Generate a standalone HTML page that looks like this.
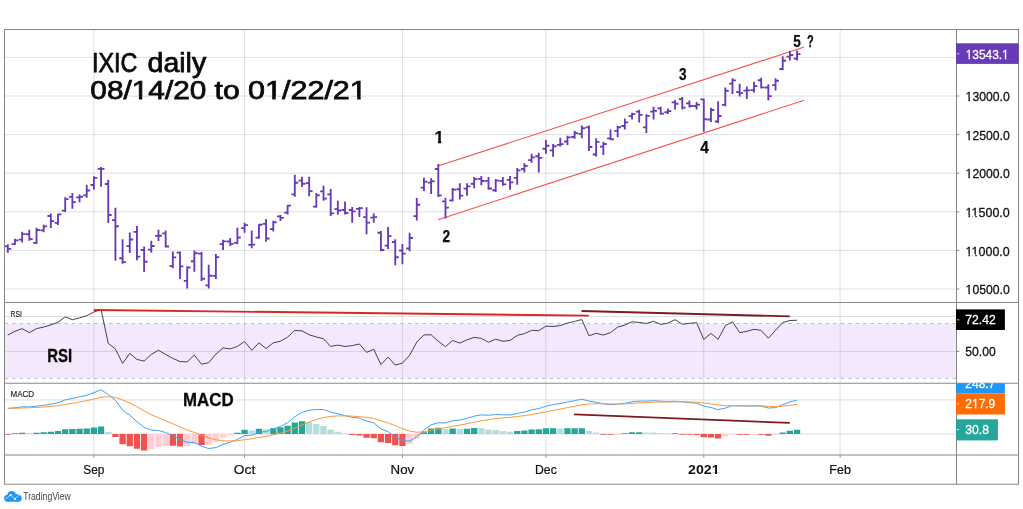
<!DOCTYPE html>
<html><head><meta charset="utf-8"><title>IXIC daily</title>
<style>
html,body{margin:0;padding:0;background:#fff;}
body{width:1023px;height:509px;overflow:hidden;}
svg{display:block;}
text{font-family:"Liberation Sans",sans-serif;}
</style></head><body>
<svg width="1023" height="509" viewBox="0 0 1023 509">
<rect width="1023" height="509" fill="#fff"/>
<rect x="5" y="323.5" width="951.5" height="54.7" fill="#f4e8fd"/>
<path d="M93.9 30V455M244.58 30V455M402.43 30V455M545.92 30V455M703.77 30V455M840.1 30V455M5 57.4H956M5 96H956M5 134.6H956M5 173.2H956M5 211.8H956M5 250.4H956M5 289H956M5 316.5H956M5 351.4H956M5 399.95H956M5 434H956" stroke="rgba(140,140,165,0.28)" stroke-width="1" fill="none"/>
<path d="M5 323.5H956M5 378.4H956" stroke="#bfbcc9" stroke-width="1" stroke-dasharray="3.4 4.065" stroke-dashoffset="0.37" fill="none"/>
<path d="M11.82 433.3h6.3v0.7h-6.3zM19 432.81h6.3v1.19h-6.3zM33.35 432.71h6.3v1.29h-6.3zM40.52 432.3h6.3v1.7h-6.3zM47.7 431.79h6.3v2.21h-6.3zM54.88 431.08h6.3v2.92h-6.3zM62.05 429.32h6.3v4.68h-6.3zM69.22 429.08h6.3v4.92h-6.3zM76.4 428.85h6.3v5.15h-6.3zM83.57 428.58h6.3v5.42h-6.3zM90.75 427.57h6.3v6.43h-6.3zM97.92 426.57h6.3v7.43h-6.3zM234.25 432.75h6.3v1.25h-6.3zM241.43 429.85h6.3v4.15h-6.3zM255.78 428.64h6.3v5.36h-6.3zM270.12 428.17h6.3v5.83h-6.3zM277.3 427.25h6.3v6.75h-6.3zM284.48 425.65h6.3v8.35h-6.3zM291.65 422.54h6.3v11.46h-6.3zM298.83 421.35h6.3v12.65h-6.3zM420.8 432.22h6.3v1.78h-6.3zM427.98 428.38h6.3v5.62h-6.3zM435.15 427.87h6.3v6.13h-6.3zM449.5 428.5h6.3v5.5h-6.3zM463.85 428.64h6.3v5.36h-6.3zM471.03 427.96h6.3v6.04h-6.3zM514.08 431.01h6.3v2.99h-6.3zM521.25 430.43h6.3v3.57h-6.3zM528.42 429.45h6.3v4.55h-6.3zM535.6 429.32h6.3v4.68h-6.3zM542.77 428.31h6.3v5.69h-6.3zM549.95 428.22h6.3v5.78h-6.3zM564.3 428.35h6.3v5.65h-6.3zM571.47 428.34h6.3v5.66h-6.3zM578.65 428.34h6.3v5.66h-6.3zM621.7 433.3h6.3v0.7h-6.3zM628.88 432.36h6.3v1.64h-6.3zM636.05 432.14h6.3v1.86h-6.3zM671.92 433.3h6.3v0.7h-6.3zM779.55 432.53h6.3v1.47h-6.3zM786.72 430.65h6.3v3.35h-6.3zM793.9 429.81h6.3v4.19h-6.3z" fill="#26a69a"/>
<path d="M26.18 433.21h6.3v0.79h-6.3zM105.1 431.88h6.3v2.12h-6.3zM248.6 430.39h6.3v3.61h-6.3zM262.95 429.33h6.3v4.67h-6.3zM306 422.17h6.3v11.83h-6.3zM313.18 423.9h6.3v10.1h-6.3zM320.35 426.01h6.3v7.99h-6.3zM327.53 429.57h6.3v4.43h-6.3zM334.7 431.87h6.3v2.13h-6.3zM341.88 433.3h6.3v0.7h-6.3zM442.33 429.31h6.3v4.69h-6.3zM456.68 429.02h6.3v4.98h-6.3zM478.2 428.17h6.3v5.83h-6.3zM485.38 429.58h6.3v4.42h-6.3zM492.55 429.93h6.3v4.07h-6.3zM499.73 430.93h6.3v3.07h-6.3zM506.9 431.65h6.3v2.35h-6.3zM557.12 428.45h6.3v5.55h-6.3zM585.82 431.02h6.3v2.98h-6.3zM593 432.55h6.3v1.45h-6.3zM643.22 432.5h6.3v1.5h-6.3zM650.4 432.51h6.3v1.49h-6.3zM657.57 433.21h6.3v0.79h-6.3zM664.75 433.3h6.3v0.7h-6.3z" fill="#b2dfdb"/>
<path d="M4.65 434h6.3v0.7h-6.3zM112.27 434h6.3v2.91h-6.3zM119.45 434h6.3v10.29h-6.3zM126.62 434h6.3v12.14h-6.3zM133.8 434h6.3v14.87h-6.3zM140.97 434h6.3v16.62h-6.3zM169.68 434h6.3v11.87h-6.3zM176.85 434h6.3v12.44h-6.3zM198.38 434h6.3v10.98h-6.3zM349.05 434h6.3v1.11h-6.3zM356.23 434h6.3v1.62h-6.3zM363.4 434h6.3v3.66h-6.3zM370.58 434h6.3v4.27h-6.3zM377.75 434h6.3v8.27h-6.3zM384.93 434h6.3v8.9h-6.3zM392.1 434h6.3v11.31h-6.3zM399.28 434h6.3v11.91h-6.3zM600.17 434h6.3v0.7h-6.3zM607.35 434h6.3v0.8h-6.3zM679.1 434h6.3v0.7h-6.3zM686.27 434h6.3v0.7h-6.3zM693.45 434h6.3v1.01h-6.3zM700.62 434h6.3v3.16h-6.3zM707.8 434h6.3v3.57h-6.3zM714.97 434h6.3v4.6h-6.3zM736.5 434h6.3v0.7h-6.3zM743.67 434h6.3v0.7h-6.3zM758.02 434h6.3v0.7h-6.3zM765.2 434h6.3v1.71h-6.3z" fill="#ef5350"/>
<path d="M148.15 434h6.3v15.3h-6.3zM155.32 434h6.3v12.68h-6.3zM162.5 434h6.3v11.73h-6.3zM184.03 434h6.3v12.33h-6.3zM191.2 434h6.3v10.05h-6.3zM205.55 434h6.3v10.64h-6.3zM212.72 434h6.3v7.73h-6.3zM219.9 434h6.3v3.68h-6.3zM227.07 434h6.3v1.16h-6.3zM406.45 434h6.3v9.94h-6.3zM413.62 434h6.3v4.47h-6.3zM614.52 434h6.3v0.7h-6.3zM722.15 434h6.3v2.43h-6.3zM729.32 434h6.3v0.7h-6.3zM750.85 434h6.3v0.7h-6.3zM772.38 434h6.3v1.02h-6.3z" fill="#ffcdd2"/>
<polyline points="7.8,408.38 14.97,407.8 22.15,406.77 29.32,406.97 36.5,406.15 43.67,405.32 50.85,404.25 58.02,402.81 65.2,399.88 72.38,398.41 79.55,396.89 86.72,395.26 93.9,392.64 101.07,389.79 108.25,394.57 115.42,400.33 122.6,410.29 129.78,415.16 136.95,421.61 144.12,427.52 151.3,430.02 158.47,430.57 165.65,432.56 172.83,435.66 180,439.34 187.18,442.32 194.35,442.55 201.53,446.22 208.7,448.54 215.88,447.56 223.05,444.43 230.22,442.21 237.4,439.48 244.58,435.55 251.75,435.19 258.93,432.09 266.1,431.62 273.27,429 280.45,426.39 287.62,422.7 294.8,416.72 301.98,412.37 309.15,410.24 316.32,409.44 323.5,409.55 330.68,412.01 337.85,413.78 345.02,415.74 352.2,417.25 359.38,418.17 366.55,421.13 373.73,422.8 380.9,428.88 388.07,431.73 395.25,436.97 402.43,440.54 409.6,441.06 416.77,436.71 423.95,430.01 431.12,424.76 438.3,422.72 445.48,422.99 452.65,420.81 459.82,420.08 467,418.36 474.18,416.17 481.35,414.92 488.52,415.22 495.7,414.55 502.88,414.79 510.05,414.92 517.23,413.54 524.4,412.06 531.57,409.95 538.75,408.64 545.92,406.21 553.1,404.68 560.27,403.51 567.45,402 574.62,400.58 581.8,399.16 588.97,401.1 596.15,402.26 603.32,403.84 610.5,404.74 617.67,404.1 624.85,403.25 632.02,401.78 639.2,401.09 646.37,401.07 653.55,400.72 660.72,401.22 667.9,401.63 675.07,401.28 682.25,401.92 689.42,402.57 696.6,403.24 703.77,406.18 710.95,407.49 718.12,409.66 725.3,408.1 732.47,405.7 739.65,405.95 746.82,406.07 754,405.87 761.17,406.21 768.35,408.03 775.52,407.6 782.7,404.73 789.87,402.02 797.05,400.13" fill="none" stroke="#3fa2f5" stroke-width="1" stroke-linejoin="round"/>
<polyline points="7.8,408.37 14.97,408.25 22.15,407.96 29.32,407.76 36.5,407.44 43.67,407.01 50.85,406.46 58.02,405.73 65.2,404.56 72.38,403.33 79.55,402.04 86.72,400.69 93.9,399.08 101.07,397.22 108.25,396.69 115.42,397.42 122.6,399.99 129.78,403.03 136.95,406.74 144.12,410.9 151.3,414.72 158.47,417.89 165.65,420.83 172.83,423.79 180,426.9 187.18,429.98 194.35,432.5 201.53,435.24 208.7,437.9 215.88,439.83 223.05,440.75 230.22,441.04 237.4,440.73 244.58,439.69 251.75,438.79 258.93,437.45 266.1,436.29 273.27,434.83 280.45,433.14 287.62,431.05 294.8,428.19 301.98,425.02 309.15,422.07 316.32,419.54 323.5,417.54 330.68,416.44 337.85,415.9 345.02,415.87 352.2,416.15 359.38,416.55 366.55,417.47 373.73,418.53 380.9,420.6 388.07,422.83 395.25,425.66 402.43,428.63 409.6,431.12 416.77,432.24 423.95,431.79 431.12,430.39 438.3,428.85 445.48,427.68 452.65,426.31 459.82,425.06 467,423.72 474.18,422.21 481.35,420.75 488.52,419.65 495.7,418.63 502.88,417.86 510.05,417.27 517.23,416.52 524.4,415.63 531.57,414.49 538.75,413.32 545.92,411.9 553.1,410.46 560.27,409.07 567.45,407.65 574.62,406.24 581.8,404.82 588.97,404.08 596.15,403.71 603.32,403.74 610.5,403.94 617.67,403.97 624.85,403.83 632.02,403.42 639.2,402.95 646.37,402.58 653.55,402.21 660.72,402.01 667.9,401.93 675.07,401.8 682.25,401.83 689.42,401.98 696.6,402.23 703.77,403.02 710.95,403.91 718.12,405.06 725.3,405.67 732.47,405.68 739.65,405.73 746.82,405.8 754,405.81 761.17,405.89 768.35,406.32 775.52,406.58 782.7,406.21 789.87,405.37 797.05,404.32" fill="none" stroke="#ff9838" stroke-width="1" stroke-linejoin="round"/>
<polyline points="7.8,335.07 14.97,331.27 22.15,328.64 29.32,332.63 36.5,328.6 43.67,327.07 50.85,324.89 58.02,322.2 65.2,316.85 72.38,319.74 79.55,317.84 86.72,315.76 93.9,311.94 101.07,309.56 108.25,343.39 115.42,349.03 122.6,363.38 129.78,353.48 136.95,359.41 144.12,361.09 151.3,354.38 158.47,350.28 165.65,354.43 172.83,358.38 180,361.54 187.18,361.93 194.35,355.05 201.53,364.19 208.7,362.72 215.88,354.21 223.05,347.89 230.22,348.94 237.4,346.35 244.58,341.55 251.75,350.34 258.93,342.8 266.1,348.62 273.27,342.77 280.45,341.27 287.62,337.13 294.8,330.38 301.98,330.87 309.15,334.73 316.32,336.96 323.5,338.73 330.68,346.39 337.85,345.14 345.02,346.44 352.2,345.64 359.38,343.99 366.55,352.37 373.73,349.3 380.9,364.5 388.07,357.08 395.25,365.05 402.43,363.17 409.6,355.3 416.77,342.05 423.95,334.89 431.12,334.79 438.3,341.33 445.48,346.66 452.65,340.44 459.82,343.06 467,339.85 474.18,337.37 481.35,338.35 488.52,342.27 495.7,339.15 502.88,341.26 510.05,340.41 517.23,335.39 524.4,333.63 531.57,330.32 538.75,330.71 545.92,326.13 553.1,326.48 560.27,325.64 567.45,323.02 574.62,321.4 581.8,319.59 588.97,335.76 596.15,333.32 603.32,335.06 610.5,332.63 617.67,327.11 624.85,325.05 632.02,321.76 639.2,322.45 646.37,323.5 653.55,321.25 660.72,324.4 667.9,323.12 675.07,319.65 682.25,324.18 689.42,323.38 696.6,322.61 703.77,339.42 710.95,333.36 718.12,339.29 725.3,325.81 732.47,321.69 739.65,332.6 746.82,331.32 754,329.3 761.17,330.44 768.35,338.19 775.52,330.35 782.7,322.44 789.87,320.52 797.05,320.2" fill="none" stroke="#46414d" stroke-width="1" stroke-linejoin="round"/>
<path d="M438 166L804.2 47.1M438 219.7L804.2 100.2" stroke="#f8524d" stroke-width="1.1" fill="none"/>
<path d="M7.8 244.37V252.84M4.4 246.44H7.8M7.8 248.91H11.2M14.97 238.67V244.98M11.57 244.09H14.97M14.97 240.38H18.38M22.15 231.8V242.62M18.75 239.57H22.15M22.15 234.12H25.55M29.32 229.83V240.66M25.93 234.26H29.32M29.32 239.09H32.73M36.5 227.87V244M33.1 242.91H36.5M36.5 229.95H39.9M43.67 224.73V232.21M40.27 230.33H43.67M43.67 226.33H47.07M50.85 213.53V227.89M47.45 215.99H50.85M50.85 221.09H54.25M58.02 213.53V224.94M54.62 222.87H58.02M58.02 214.39H61.42M65.2 197.22V211.97M61.8 210.69H65.2M65.2 199.06H68.6M72.38 192.9V208.63M68.97 196.94H72.38M72.38 202.12H75.78M79.55 194.47V202.35M76.15 197.33H79.55M79.55 196.7H82.95M86.72 184.65V197.83M83.32 195.36H86.72M86.72 190.53H90.12M93.9 176.2V189.58M90.5 184.95H93.9M93.9 177.86H97.3M101.07 166.97V186.63M97.67 168.84H101.07M101.07 168.84H104.47M108.25 179.74V223M104.85 183.97H108.25M108.25 215.03H111.65M115.42 207.86V260.73M112.02 220.15H115.42M115.42 226.23H118.83M122.6 239.29V263.67M119.2 258.26H122.6M122.6 262.16H126M129.78 232.42V253.06M126.38 246.08H129.78M129.78 239.47H133.18M136.95 225.93V260.33M133.55 231.94H136.95M136.95 256.61H140.35M144.12 246.56V272.12M140.72 250.01H144.12M144.12 261.71H147.53M151.3 240.67V252.87M147.9 249.62H151.3M151.3 246.03H154.7M158.47 229.86V241.08M155.07 235.86H158.47M158.47 235.71H161.88M165.65 230.45V247.56M162.25 233.31H165.65M165.65 246.5H169.05M172.83 251.47V268.19M169.43 266.12H172.83M172.83 257.33H176.23M180 251.47V279M176.6 252.56H180M180 266.36H183.4M187.18 266.21V288.43M183.78 280.85H187.18M187.18 267.48H190.58M194.35 250.49V271.73M190.95 261.21H194.35M194.35 253.21H197.75M201.53 252.06V280.96M198.12 253.55H201.53M201.53 278.73H204.93M208.7 264.83V288.43M205.3 285.37H208.7M208.7 275.7H212.1M215.88 254.03V279M212.47 275.94H215.88M215.88 257.07H219.28M223.05 239.66V249.89M219.65 244.09H223.05M223.05 241.33H226.45M230.22 238.09V245.96M226.82 241.53H230.22M230.22 243.82H233.62M237.4 227.87V244M234 242.91H237.4M237.4 237.47H240.8M244.58 222.76V232.8M241.18 228.17H244.58M244.58 225.19H247.98M251.75 230.62V248.32M248.35 244.87H251.75M251.75 244.61H255.15M258.93 224.23V238.69M255.53 237.6H258.93M258.93 224.73H262.32M266.1 219.03V241.64M262.7 223.85H266.1M266.1 238.46H269.5M273.27 220.8V231.62M269.88 229.16H273.27M273.27 222.25H276.67M280.45 215.1V221.01M277.05 216.39H280.45M280.45 217.9H283.85M287.62 205.08V214.53M284.23 212.65H287.62M287.62 205.63H291.02M294.8 174.63V196.85M291.4 194.38H294.8M294.8 182.75H298.2M301.98 176.79V187.02M298.58 180.63H301.98M301.98 183.71H305.38M309.15 176.79V196.26M305.75 183.18H309.15M309.15 191.05H312.55M316.32 192.9V207.65M312.93 206.56H316.32M316.32 195.29H319.72M323.5 185.63V200.78M320.1 191.43H323.5M323.5 198.56H326.9M330.68 188.97V216.1M327.28 194.38H330.68M330.68 213.43H334.07M337.85 200.7V214.7M334.45 209.15H337.85M337.85 210.53H341.25M345.02 201.6V214.4M341.62 210H345.02M345.02 212.98H348.42M352.2 206.9V222.87M348.8 210H352.2M352.2 211.34H355.6M359.38 206.9V217M355.98 208.9H359.38M359.38 208.07H362.77M366.55 207.33V234.26M363.15 217.06H366.55M366.55 222.69H369.95M373.73 213.62V222.87M370.33 217.65H373.73M373.73 217.1H377.12M380.9 230.9V251.35M377.5 232.78H380.9M380.9 250.02H384.3M388.07 226.98V249M384.68 245.55H388.07M388.07 236.07H391.47M395.25 239.16V265.3M391.85 242.01H395.25M395.25 257.23H398.65M402.43 244.07V264.32M399.03 250.46H402.43M402.43 253.67H405.82M409.6 232.87V251.35M406.2 248.5H409.6M409.6 238H413M416.77 197.9V220.51M413.38 216.08H416.77M416.77 204.79H420.17M423.95 177.86V191.04M420.55 187.59H423.95M423.95 181.62H427.35M431.12 178.25V193.99M427.73 182.68H431.12M431.12 181.29H434.52M438.3 164V196.93M434.9 169H438.3M438.3 195.3H441.7M445.48 197.9V218.55M442.08 201.35H445.48M445.48 207.64H448.88M452.65 188.08V201.45M449.25 200.36H452.65M452.65 189.69H456.05M459.82 183.26V199.59M456.43 189.26H459.82M459.82 195.62H463.22M467 183.26V195.66M463.6 188.67H467M467 186.38H470.4M474.18 176.98V188.19M470.78 183.76H474.18M474.18 179.06H477.57M481.35 175.99V185.24M477.95 178.85H481.35M481.35 180.97H484.75M488.52 176.98V189.76M485.12 180.82H488.52M488.52 188.52H491.92M495.7 178.94V192.12M492.3 190.25H495.7M495.7 180.56H499.1M502.88 176.98V185.83M499.48 180.82H502.88M502.88 184.4H506.27M510.05 175.99V189.76M506.65 179.83H510.05M510.05 182.42H513.45M517.23 167.94V184.85M513.83 177.87H517.23M517.23 170.36H520.62M524.4 163.22V172.47M521 169.03H524.4M524.4 165.91H527.8M531.57 153.79V162.65M528.17 160.19H531.57M531.57 157.31H534.97M538.75 152.81V172.47M535.35 156.26H538.75M538.75 157.86H542.15M545.92 140.04V153.81M542.52 148.79H545.92M545.92 145.79H549.32M553.1 143.97V156.76M549.7 150.36H553.1M553.1 146.23H556.5M560.27 137.68V146.54M556.88 144.86H560.27M560.27 144.08H563.67M567.45 135.72V144.97M564.05 141.52H567.45M567.45 137.36H570.85M574.62 130.81V138.68M571.22 137H574.62M574.62 133.06H578.02M581.8 125.49V138.28M578.4 133.85H581.8M581.8 128.21H585.2M588.97 125.49V151.05M585.57 127.37H588.97M588.97 147.03H592.37M596.15 138.26V156.55M592.75 154.48H596.15M596.15 141.87H599.55M603.32 141.8V154.98M599.92 146.62H603.32M603.32 144.03H606.72M610.5 129.42V140.24M607.1 138.37H610.5M610.5 139.23H613.9M617.67 126.08V137.3M614.27 130.9H617.67M617.67 127.26H621.07M624.85 118.62V129.44M621.45 125.99H624.85M624.85 122.39H628.25M632.02 112.72V119.62M628.62 116.17H632.02M632.02 114.16H635.42M639.2 109.78V122.56M635.8 111.65H639.2M639.2 114.86H642.6M646.37 114.29V132.98M642.97 127.37H646.37M646.37 115.88H649.77M653.55 106.83V119.62M650.15 111.65H653.55M653.55 110.83H656.95M660.72 106.83V114.7M657.32 108.31H660.72M660.72 113.67H664.12M667.9 108.4V114.11M664.5 112.24H667.9M667.9 111.07H671.3M675.07 99.95V109.4M671.67 102.42H675.07M675.07 103.76H678.47M682.25 97V109.4M678.85 99.08H682.25M682.25 107.56H685.65M689.42 100.54V107.44M686.02 103.4H689.42M689.42 106.04H692.82M696.6 101.92V109.4M693.2 105.95H696.6M696.6 104.62H700M703.77 98.4V131.82M700.38 99.3H703.77M703.77 119.28H707.17M710.95 107.83V122M707.55 119.53H710.95M710.95 109.98H714.35M718.12 101.35V123.37M714.72 121.5H718.12M718.12 116.01H721.52M725.3 87.6V106.28M721.9 104.8H725.3M725.3 90.79H728.7M732.47 78.36V93.9M729.07 83.58H732.47M732.47 80.41H735.87M739.65 83.67V96.46M736.25 92.03H739.65M739.65 93.19H743.05M746.82 86.62V99.01M743.42 90.65H746.82M746.82 90.41H750.22M754 81.7V92.53M750.6 90.06H754M754 86.05H757.4M761.17 77.78V88.6M757.77 80.24H761.17M761.17 87.3H764.57M768.35 84.26V100.39M764.95 87.51H768.35M768.35 96.12H771.75M775.52 78.36V90.56M772.12 85.15H775.52M775.52 80.78H778.92M782.7 56.16V70.33M779.3 69.04H782.7M782.7 60.7H786.1M789.87 50.8V60.5M786.47 56.66H789.87M789.87 55.01H793.27M797.05 50.5V60.5M793.65 58.63H797.05M797.05 54.08H800.45" stroke="#673ab7" stroke-width="1.85" fill="none"/>
<path d="M93.8 310L588.7 315.6" stroke="#dc2626" stroke-width="1.9" fill="none"/>
<path d="M581.5 311L789.8 316.4M574 414.4L789.8 422.9" stroke="#7d1a22" stroke-width="1.85" fill="none"/>
<path d="M4 302.45H1019M4 383.2H1019M4 454.9H1019" stroke="#898989" stroke-width="1.05" fill="none"/>
<path d="M956.5 29V484" stroke="#858585" stroke-width="1" fill="none"/>
<rect x="4.5" y="29.5" width="1014" height="454.7" fill="none" stroke="#858585" stroke-width="1"/>
<path d="M957 96h2.3M957 134.6h2.3M957 173.2h2.3M957 211.8h2.3M957 250.4h2.3M957 289h2.3M957 351.4h2.3M93.9 455v2.6M244.58 455v2.6M402.43 455v2.6M545.92 455v2.6M703.77 455v2.6M840.1 455v2.6" stroke="#85858c" stroke-width="1" fill="none"/>
<g fill="#111" stroke="#111" stroke-width="0.3">
<clipPath id="k11"><path clip-rule="evenodd" d="M960.6 85.36H1014.8V106.48H960.6zM965.92 99.68H968.54V103.35H965.92zM969.88 99.68H972.38V103.35H969.88z"/></clipPath>
<text x="965.6" y="101.2" font-size="13.2" lengthAdjust="spacingAndGlyphs" textLength="44.2" clip-path="url(#k11)">13000.0</text>
<clipPath id="k12"><path clip-rule="evenodd" d="M960.6 123.96H1014.8V145.08H960.6zM965.92 138.28H968.54V141.95H965.92zM969.88 138.28H972.38V141.95H969.88z"/></clipPath>
<text x="965.6" y="139.8" font-size="13.2" lengthAdjust="spacingAndGlyphs" textLength="44.2" clip-path="url(#k12)">12500.0</text>
<clipPath id="k13"><path clip-rule="evenodd" d="M960.6 162.56H1014.8V183.68H960.6zM965.92 176.88H968.54V180.55H965.92zM969.88 176.88H972.38V180.55H969.88z"/></clipPath>
<text x="965.6" y="178.4" font-size="13.2" lengthAdjust="spacingAndGlyphs" textLength="44.2" clip-path="url(#k13)">12000.0</text>
<clipPath id="k14"><path clip-rule="evenodd" d="M960.6 201.16H1014.8V222.28H960.6zM965.92 215.48H968.54V219.15H965.92zM969.88 215.48H972.38V219.15H969.88zM972.72 215.48H975.34V219.15H972.72zM976.68 215.48H979.18V219.15H976.68z"/></clipPath>
<text x="965.6" y="217" font-size="13.2" lengthAdjust="spacingAndGlyphs" textLength="44.2" clip-path="url(#k14)">11500.0</text>
<clipPath id="k15"><path clip-rule="evenodd" d="M960.6 239.76H1014.8V260.88H960.6zM965.92 254.08H968.54V257.75H965.92zM969.88 254.08H972.38V257.75H969.88zM972.72 254.08H975.34V257.75H972.72zM976.68 254.08H979.18V257.75H976.68z"/></clipPath>
<text x="965.6" y="255.6" font-size="13.2" lengthAdjust="spacingAndGlyphs" textLength="44.2" clip-path="url(#k15)">11000.0</text>
<clipPath id="k16"><path clip-rule="evenodd" d="M960.6 278.36H1014.8V299.48H960.6zM965.92 292.68H968.54V296.35H965.92zM969.88 292.68H972.38V296.35H969.88z"/></clipPath>
<text x="965.6" y="294.2" font-size="13.2" lengthAdjust="spacingAndGlyphs" textLength="44.2" clip-path="url(#k16)">10500.0</text>
<text x="965.3" y="355.9" font-size="13.2" lengthAdjust="spacingAndGlyphs" textLength="30.4">50.00</text>
</g>
<g fill="#fff" stroke="#fff" stroke-width="0.3">
<rect x="956" y="43.3" width="62.6" height="20.6" fill="#673ab7" stroke="none"/>
<path d="M957 53.8h2.3" stroke="#d5c8ee" stroke-width="1"/>
<clipPath id="k17"><path clip-rule="evenodd" d="M960.7 42.66H1013.7V63.78H960.7zM965.99 56.98H968.55V60.65H965.99zM969.87 56.98H972.31V60.65H969.87zM1002.38 56.98H1004.94V60.65H1002.38zM1006.25 56.98H1008.69V60.65H1006.25z"/></clipPath>
<text x="965.7" y="58.5" font-size="13.2" lengthAdjust="spacingAndGlyphs" textLength="43" clip-path="url(#k17)">13543.1</text>
<rect x="956" y="309.4" width="48.9" height="20.6" fill="#000" stroke="none"/>
<path d="M957 319.8h2.3" stroke="#ccc" stroke-width="1"/>
<text x="965.3" y="324.4" font-size="13.2" lengthAdjust="spacingAndGlyphs" textLength="30.4">72.42</text>
<clipPath id="c1"><rect x="950" y="383.3" width="70" height="80"/></clipPath>
<g clip-path="url(#c1)"><rect x="956" y="373" width="48.9" height="20.4" fill="#2196f3" stroke="none"/><text x="965.3" y="387.9" font-size="13.2" lengthAdjust="spacingAndGlyphs" textLength="30">248.7</text></g>
<rect x="956" y="393.4" width="48.9" height="21.1" fill="#ff6d00" stroke="none"/>
<path d="M957 404h2.3" stroke="#ffd9b8" stroke-width="1"/>
<clipPath id="k18"><path clip-rule="evenodd" d="M960.3 392.46H1000.3V413.58H960.3zM972.27 406.78H974.84V410.45H972.27zM976.16 406.78H978.62V410.45H976.16z"/></clipPath>
<text x="965.3" y="408.3" font-size="13.2" lengthAdjust="spacingAndGlyphs" textLength="30" clip-path="url(#k18)">217.9</text>
<rect x="956" y="419.3" width="41.9" height="21.1" fill="#26a69a" stroke="none"/>
<path d="M957 429.5h2.3" stroke="#c5e8e4" stroke-width="1"/>
<text x="965.3" y="433.6" font-size="13.2" lengthAdjust="spacingAndGlyphs" textLength="23.6">30.8</text>
</g>
<text x="93.9" y="474.4" font-size="12.3" fill="#111" text-anchor="middle" textLength="21.1" lengthAdjust="spacingAndGlyphs" stroke="#111" stroke-width="0.2">Sep</text>
<text x="244.58" y="474.4" font-size="12.3" fill="#111" text-anchor="middle" textLength="21.4" lengthAdjust="spacingAndGlyphs" stroke="#111" stroke-width="0.2">Oct</text>
<text x="402.43" y="474.4" font-size="12.3" fill="#111" text-anchor="middle" textLength="23.6" lengthAdjust="spacingAndGlyphs" stroke="#111" stroke-width="0.2">Nov</text>
<text x="545.92" y="474.4" font-size="12.3" fill="#111" text-anchor="middle" textLength="21.7" lengthAdjust="spacingAndGlyphs" stroke="#111" stroke-width="0.2">Dec</text>
<text x="840.1" y="474.4" font-size="12.3" fill="#111" text-anchor="middle" textLength="21.5" lengthAdjust="spacingAndGlyphs" stroke="#111" stroke-width="0.2">Feb</text>
<clipPath id="k19"><path clip-rule="evenodd" d="M683.1 459.64H724.6V479.32H683.1zM712.31 472.82H715.02V476.4H712.31zM716.93 472.82H719.46V476.4H716.93z"/></clipPath>
<text x="688.1" y="474.4" font-size="12.3" fill="#111" font-weight="bold" textLength="31.5" lengthAdjust="spacingAndGlyphs" clip-path="url(#k19)">2021</text>
<text x="10.6" y="316.7" font-size="8.2" fill="#2a2a2a" stroke="#2a2a2a" stroke-width="0.18" textLength="11.2" lengthAdjust="spacingAndGlyphs">RSI</text>
<text x="10.5" y="397.4" font-size="8.2" fill="#2a2a2a" stroke="#2a2a2a" stroke-width="0.18" textLength="23.6" lengthAdjust="spacingAndGlyphs">MACD</text>
<text x="47.3" y="361.5" font-size="18.6" font-weight="bold" fill="#0a0a0a" stroke="#0a0a0a" stroke-width="0.3" textLength="24.9" lengthAdjust="spacingAndGlyphs">RSI</text>
<text x="183.1" y="406.3" font-size="18.8" font-weight="bold" fill="#0a0a0a" stroke="#0a0a0a" stroke-width="0.3" textLength="50.5" lengthAdjust="spacingAndGlyphs">MACD</text>
<clipPath id="c3"><path clip-rule="evenodd" d="M80 40H380V112H80zM132.96 96.24H138.93V101.38H132.96zM142.21 96.24H147.88V101.38H142.21zM266.14 96.24H272.25V101.38H266.14zM275.59 96.24H281.39V101.38H275.59zM351.14 96.24H357.25V101.38H351.14zM360.59 96.24H366.39V101.38H360.59z"/></clipPath>
<g fill="#0a0a0a" stroke="#0a0a0a" stroke-width="0.75" clip-path="url(#c3)"><text x="92" y="72.1" font-size="27" textLength="45.4" lengthAdjust="spacingAndGlyphs">IXIC</text><text x="147.6" y="72.1" font-size="27" textLength="58.6" lengthAdjust="spacingAndGlyphs">daily</text><text x="90.35" y="99" font-size="26.3" textLength="116" lengthAdjust="spacingAndGlyphs">08/14/20</text><text x="214.6" y="99" font-size="26.3" textLength="25.2" lengthAdjust="spacingAndGlyphs">to</text><text x="247.9" y="99" font-size="26.3" textLength="119" lengthAdjust="spacingAndGlyphs">01/22/21</text></g>
<text x="442.5" y="241.8" font-size="16.4" font-weight="bold" fill="#0a0a0a" stroke="#0a0a0a" stroke-width="0.25" textLength="7.6" lengthAdjust="spacingAndGlyphs">2</text>
<text x="679" y="80.2" font-size="16.4" font-weight="bold" fill="#0a0a0a" stroke="#0a0a0a" stroke-width="0.25" textLength="7.6" lengthAdjust="spacingAndGlyphs">3</text>
<text x="700.3" y="153.2" font-size="16.4" font-weight="bold" fill="#0a0a0a" stroke="#0a0a0a" stroke-width="0.25" textLength="8.6" lengthAdjust="spacingAndGlyphs">4</text>
<text x="793.3" y="47.4" font-size="16.4" font-weight="bold" fill="#0a0a0a" stroke="#0a0a0a" stroke-width="0.25" textLength="7.5" lengthAdjust="spacingAndGlyphs">5</text>
<text x="807.0" y="47.2" font-size="16.4" font-weight="bold" fill="#0a0a0a" stroke="#0a0a0a" stroke-width="0.25" textLength="6.7" lengthAdjust="spacingAndGlyphs">?</text>
<clipPath id="c2"><path d="M430 125H446V140.5H441.2V144H437.9V140.5H430z"/></clipPath>
<text x="434.5" y="142.6" font-size="16.8" font-weight="bold" fill="#0a0a0a" stroke="#0a0a0a" stroke-width="0.25" clip-path="url(#c2)">1</text>
<g><g fill="#2196f3"><circle cx="7.6" cy="498.2" r="3.5"/><circle cx="11.6" cy="495.3" r="4.4"/><circle cx="16.8" cy="496.9" r="3"/><circle cx="18.4" cy="498.4" r="3.3"/><rect x="7.6" y="496" width="10.8" height="5.7"/></g><path d="M4.7 499.8L10.6 495L14.9 499L19.3 494.4" stroke="#e3f2fd" stroke-width="0.7" fill="none"/><circle cx="10.6" cy="495" r="1" fill="#fff"/><circle cx="14.9" cy="499" r="1.1" fill="#fff"/><text x="23.2" y="499.6" font-size="10.2" fill="#454545" textLength="47.6" lengthAdjust="spacingAndGlyphs">TradingView</text></g>
</svg></body></html>
